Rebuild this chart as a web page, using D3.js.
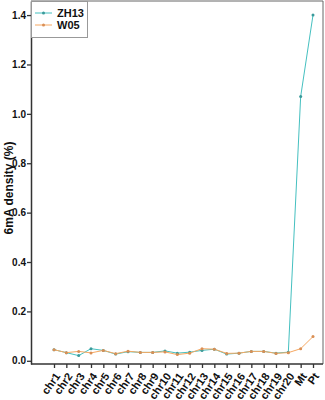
<!DOCTYPE html>
<html>
<head>
<meta charset="utf-8">
<script src="https://cdn.jsdelivr.net/npm/d3@7"></script>
<style>
  body { margin: 0; background: #fff; }
  text { font-family: "Liberation Sans", Arial, sans-serif; font-weight: bold; }
</style>
</head>
<body>
<svg id="chart" width="325" height="400"></svg>
<script>
// chromosome categories along the x axis
var categories = ["chr1", "chr2", "chr3", "chr4", "chr5", "chr6", "chr7", "chr8", "chr9", "chr10",
    "chr11", "chr12", "chr13", "chr14", "chr15", "chr16", "chr17", "chr18", "chr19", "chr20", "Mt", "Pt"];

// 6mA density (%) per sample
var zh13 = [0.045, 0.033, 0.021, 0.049, 0.042, 0.027, 0.037, 0.034, 0.034, 0.040,
    0.031, 0.035, 0.042, 0.047, 0.027, 0.031, 0.038, 0.038, 0.031, 0.035, 1.07, 1.40];
var w05 = [0.045, 0.033, 0.038, 0.032, 0.042, 0.029, 0.039, 0.034, 0.034, 0.036,
    0.025, 0.031, 0.049, 0.047, 0.030, 0.031, 0.038, 0.038, 0.030, 0.033, 0.049, 0.098];

var yTicks = [0.0, 0.2, 0.4, 0.6, 0.8, 1.0, 1.2, 1.4];

var series = [
    { name: "ZH13", values: zh13, color: "#45c0c0", dot: "#3a9a9a" },
    { name: "W05", values: w05, color: "#f6a862", dot: "#d98f55" }
];

var svg = d3.select("#chart");
var plotLeft = 31, plotRight = 323, plotTop = 1, plotBottom = 364;

var x = d3.scalePoint().domain(categories).range([54, 313]);
var y = d3.scaleLinear().domain([-0.013, 1.457]).range([plotBottom, plotTop]);

// frame (top + right)
svg.append("path")
    .attr("d", "M" + plotLeft + "," + plotTop + "H" + plotRight + "V" + plotBottom)
    .attr("fill", "none").attr("stroke", "#666").attr("stroke-width", 1);

// y axis
var yAxis = svg.append("g")
    .attr("transform", "translate(" + plotLeft + ",0)")
    .call(d3.axisLeft(y).tickValues(yTicks).tickFormat(d3.format(".1f")).tickSize(4).tickSizeOuter(0));

// x axis
var xAxis = svg.append("g")
    .attr("transform", "translate(0," + plotBottom + ")")
    .call(d3.axisBottom(x).tickSize(4).tickSizeOuter(0));
xAxis.select(".domain").attr("d", "M" + plotLeft + ",0H" + plotRight);

[yAxis, xAxis].forEach(function (g) {
    g.attr("font-family", null).attr("font-size", null);
    g.select(".domain").attr("stroke", "#333").attr("stroke-width", 1.5);
    g.selectAll(".tick line").attr("stroke", "#333").attr("stroke-width", 1.3);
    g.selectAll(".tick text").attr("fill", "#111").style("font-weight", "700");
});
yAxis.selectAll(".tick text").attr("x", -5).style("font-size", "10px");

xAxis.selectAll(".tick text")
    .style("font-size", "11px")
    .attr("text-anchor", "end")
    .attr("dy", "0.35em")
    .attr("transform", "translate(3,10) rotate(-55)")
    .attr("x", 0).attr("y", 0);

// y label
svg.append("text")
    .attr("transform", "translate(12.5,188) rotate(-90)")
    .attr("text-anchor", "middle")
    .style("font-size", "12px")
    .attr("fill", "#111")
    .text("6mA density (%)");

var line = d3.line()
    .x(function (d, i) { return x(categories[i]); })
    .y(function (d) { return y(d); });

series.forEach(function (s) {
    svg.append("path")
        .datum(s.values)
        .attr("d", line)
        .attr("fill", "none")
        .attr("stroke", s.color)
        .attr("stroke-width", 1);
    svg.append("g").selectAll("circle")
        .data(s.values)
        .join("circle")
        .attr("cx", function (d, i) { return x(categories[i]); })
        .attr("cy", function (d) { return y(d); })
        .attr("r", 1.5)
        .attr("fill", s.dot);
});

// legend
var legend = svg.append("g");
legend.append("rect")
    .attr("x", plotLeft + 0.5).attr("y", plotTop + 0.5)
    .attr("width", 56).attr("height", 36)
    .attr("fill", "#fff").attr("stroke", "#999").attr("stroke-width", 1);
series.forEach(function (s, i) {
    var ly = 13 + i * 12;
    legend.append("line")
        .attr("x1", 35).attr("x2", 52).attr("y1", ly).attr("y2", ly)
        .attr("stroke", s.color).attr("stroke-width", 1);
    legend.append("circle")
        .attr("cx", 43.5).attr("cy", ly).attr("r", 1.5).attr("fill", s.dot);
    legend.append("text")
        .attr("x", 57).attr("y", ly).attr("dy", "0.35em")
        .style("font-size", "11px").attr("fill", "#111")
        .text(s.name);
});
</script>
</body>
</html>
